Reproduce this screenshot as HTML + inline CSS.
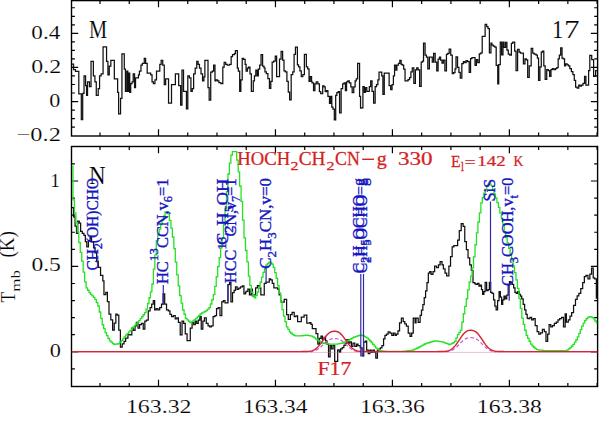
<!DOCTYPE html><html><head><meta charset="utf-8"><style>html,body{margin:0;padding:0;background:#fff;overflow:hidden}svg{display:block}text{font-family:'Liberation Serif',serif}</style></head><body>
<svg width="600" height="438" viewBox="0 0 600 438">
<rect width="600" height="438" fill="#fff"/>
<defs><clipPath id="ct"><rect x="71.5" y="0.6" width="526.1" height="135.4"/></clipPath><clipPath id="cb"><rect x="71.5" y="146.5" width="526.1" height="240.0"/></clipPath></defs>
<rect x="71.5" y="0.6" width="526.1" height="135.4" fill="none" stroke="#000" stroke-width="1.4"/>
<path d="M100.02 136.0v-3.4M100.02 0.6v3.4M129.26 136.0v-3.4M129.26 0.6v3.4M158.50 136.0v-6.7M158.50 0.6v6.7M187.74 136.0v-3.4M187.74 0.6v3.4M216.98 136.0v-3.4M216.98 0.6v3.4M246.22 136.0v-3.4M246.22 0.6v3.4M275.46 136.0v-6.7M275.46 0.6v6.7M304.70 136.0v-3.4M304.70 0.6v3.4M333.94 136.0v-3.4M333.94 0.6v3.4M363.18 136.0v-3.4M363.18 0.6v3.4M392.42 136.0v-6.7M392.42 0.6v6.7M421.66 136.0v-3.4M421.66 0.6v3.4M450.90 136.0v-3.4M450.90 0.6v3.4M480.14 136.0v-3.4M480.14 0.6v3.4M509.38 136.0v-6.7M509.38 0.6v6.7M538.62 136.0v-3.4M538.62 0.6v3.4M567.86 136.0v-3.4M567.86 0.6v3.4M597.10 136.0v-3.4M597.10 0.6v3.4M71.5 127.12h3.4M597.6 127.12h-3.4M71.5 118.60h3.4M597.6 118.60h-3.4M71.5 110.08h3.4M597.6 110.08h-3.4M71.5 101.55h6.7M597.6 101.55h-6.7M71.5 93.02h3.4M597.6 93.02h-3.4M71.5 84.50h3.4M597.6 84.50h-3.4M71.5 75.97h3.4M597.6 75.97h-3.4M71.5 67.45h6.7M597.6 67.45h-6.7M71.5 58.92h3.4M597.6 58.92h-3.4M71.5 50.40h3.4M597.6 50.40h-3.4M71.5 41.87h3.4M597.6 41.87h-3.4M71.5 33.35h6.7M597.6 33.35h-6.7M71.5 24.82h3.4M597.6 24.82h-3.4M71.5 16.30h3.4M597.6 16.30h-3.4M71.5 7.77h3.4M597.6 7.77h-3.4" stroke="#000" stroke-width="1.2" fill="none"/>
<rect x="71.5" y="146.5" width="526.1" height="240.0" fill="none" stroke="#000" stroke-width="1.4"/>
<path d="M100.02 386.5v-3.4M100.02 146.5v3.4M129.26 386.5v-3.4M129.26 146.5v3.4M158.50 386.5v-6.7M158.50 146.5v6.7M187.74 386.5v-3.4M187.74 146.5v3.4M216.98 386.5v-3.4M216.98 146.5v3.4M246.22 386.5v-3.4M246.22 146.5v3.4M275.46 386.5v-6.7M275.46 146.5v6.7M304.70 386.5v-3.4M304.70 146.5v3.4M333.94 386.5v-3.4M333.94 146.5v3.4M363.18 386.5v-3.4M363.18 146.5v3.4M392.42 386.5v-6.7M392.42 146.5v6.7M421.66 386.5v-3.4M421.66 146.5v3.4M450.90 386.5v-3.4M450.90 146.5v3.4M480.14 386.5v-3.4M480.14 146.5v3.4M509.38 386.5v-6.7M509.38 146.5v6.7M538.62 386.5v-3.4M538.62 146.5v3.4M567.86 386.5v-3.4M567.86 146.5v3.4M597.10 386.5v-3.4M597.10 146.5v3.4M71.5 368.88h3.4M597.6 368.88h-3.4M71.5 351.80h6.7M597.6 351.80h-6.7M71.5 334.72h3.4M597.6 334.72h-3.4M71.5 317.64h3.4M597.6 317.64h-3.4M71.5 300.56h3.4M597.6 300.56h-3.4M71.5 283.48h3.4M597.6 283.48h-3.4M71.5 266.40h6.7M597.6 266.40h-6.7M71.5 249.32h3.4M597.6 249.32h-3.4M71.5 232.24h3.4M597.6 232.24h-3.4M71.5 215.16h3.4M597.6 215.16h-3.4M71.5 198.08h3.4M597.6 198.08h-3.4M71.5 181.00h6.7M597.6 181.00h-6.7M71.5 163.92h3.4M597.6 163.92h-3.4" stroke="#000" stroke-width="1.2" fill="none"/>
<path d="M71.50 64.08H73.55V69.51H75.50V71.46H78.80V93.98H81.32V119.61H82.68V93.40H84.04V75.92H85.59V85.63H86.56V95.34H87.53V81.75H89.48V86.60H91.03V61.36H93.36V75.92H94.91V81.75H96.27V95.34H98.21V88.54H99.57V75.92H101.13V73.98H103.07V46.80H106.56V61.36H107.92V74.95H109.28V66.21H110.83V60.39H114.33V78.83H117.63V92.43H118.60V113.79H120.54V98.25H121.94V53.98H124.27V69.13H125.44V91.46H126.80V71.07H127.77V91.46H128.74V73.01H129.71V92.43H130.68V83.69H132.04V81.75H133.20V73.98H134.56V87.57H135.53V77.86H138.45V74.95H139.42V71.07H140.97V65.24H142.33V63.30H144.27V58.45H145.63V63.30H147.18V73.01H150.68V74.95H152.04V81.75H153.40V83.69H154.95V79.81H156.50V71.07H159.81V64.27H161.17V60.39H162.72V65.24H164.27V84.66H165.63V78.83H168.54V103.11H169.55V103.11H171.50V84.66H175.38V73.98H178.68V85.63H180.62V105.05H181.98V70.10H183.53V91.46H186.45V108.93H187.81V75.92H189.36V77.86H190.91V91.46H192.27V88.54H193.63V73.98H195.18V68.16H196.74V61.36H198.10V64.27H199.46V68.16H201.01V73.98H202.56V80.78H203.92V76.89H204.89V60.39H208.00V87.57H209.17V100.19H210.72V72.04H212.27V71.07H213.63V65.24H214.99V80.78H216.00V79.81H217.55V80.78H218.91V82.72H220.85V83.69H222.80V67.18H224.16V62.33H225.71V64.27H227.26V65.24H229.59V64.27H231.15V56.50H232.50V54.56H234.45V53.59H235.42V50.68H237.36V68.16H238.33V71.07H239.69V91.46H240.85V79.81H242.21V58.45H243.57V59.42H245.13V64.27H246.10V71.07H247.46V68.16H248.62V67.18H249.98V73.98H251.34V91.46H253.28V80.78H254.45V75.92H255.81V70.10H257.17V75.92H258.33V69.13H259.69V65.24H261.05V54.56H262.60V66.21H264.00V67.86H264.97V71.75H266.33V73.69H267.88V78.54H269.44V88.25H270.80V81.46H272.16V62.04H273.71V61.07H275.26V56.21H276.62V76.60H279.53V59.13H281.09V51.36H282.64V60.10H284.00V70.78H285.36V71.75H286.91V81.46H288.27V92.14H289.63V99.90H291.18V74.66H292.74V71.75H294.10V54.27H295.46V47.09H297.40V64.95H298.56V66.89H299.92V70.78H301.28V76.60H302.83V74.66H304.39V54.27H306.33V66.89H307.69V68.83H309.05V81.46H310.21V76.60H311.57V81.46H312.00V82.86H313.55V90.63H314.91V83.83H316.27V81.89H317.83V83.83H319.38V91.60H320.74V93.54H322.68V85.78H324.04V86.75H325.20V91.60H326.56V90.63H327.92V96.46H329.48V103.25H330.64V96.46H331.81V107.14H332.97V109.08H334.33V119.76H335.69V95.49H336.85V92.57H338.21V91.60H339.57V112.96H341.13V88.69H342.68V83.83H344.04V82.86H345.40V90.63H346.56V81.89H347.92V80.92H349.28V82.86H350.83V86.75H352.19V92.57H353.75V86.75H355.11V80.92H356.27V78.98H357.63V63.45H359.57V96.46H360.54V108.11H360.97V107.96H362.91V86.60H364.27V92.43H365.44V87.57H366.80V91.46H369.32V86.60H370.68V80.78H372.04V91.46H373.59V103.11H375.15V86.60H376.50V84.66H377.86V79.81H379.03V72.04H381.75V75.92H382.91V94.37H384.27V73.01H389.13V85.63H390.68V89.51H392.04V84.66H393.40V75.92H394.56V65.24H395.92V70.10H396.89V65.24H398.45V63.30H399.81V60.39H401.17V64.27H402.33V65.24H403.69V69.13H405.05V80.78H408.00V79.51H409.55V77.57H410.91V71.75H412.27V67.86H413.83V83.40H415.38V69.81H416.74V67.86H418.10V69.81H419.65V86.31H421.20V62.04H422.56V61.07H423.53V43.20H425.09V55.24H426.45V57.18H427.81V68.83H429.36V57.18H432.27V62.04H433.63V53.30H435.18V62.04H436.74V70.78H438.10V59.13H439.46V57.18H440.62V60.10H441.98V63.01H443.34V60.10H444.89V70.78H446.45V54.27H447.81V53.30H449.17V49.03H450.72V55.24H452.27V73.69H453.63V72.72H454.99V68.83H456.00V56.75H457.55V67.43H458.91V72.28H460.27V78.11H461.83V63.54H463.38V61.60H464.74V62.57H466.10V60.63H467.65V61.60H469.20V72.28H470.56V58.69H471.92V57.72H475.03V65.49H476.39V59.66H477.75V62.57H479.30V53.83H480.85V52.86H482.21V36.36H485.13V24.32H486.68V26.65H488.04V28.59H489.40V52.86H490.95V43.16H491.92V45.10H493.28V46.07H494.83V47.04H496.19V65.49H497.75V83.93H498.72V64.51H500.27V42.18H501.63V54.81H502.99V42.18H504.00V47.33H505.55V42.48H506.91V50.24H508.27V54.13H509.83V55.10H511.38V43.45H512.74V42.09H514.68V51.21H516.04V70.63H517.59V49.27H519.15V52.18H520.50V53.16H523.42V63.83H524.97V58.98H526.33V59.95H527.69V77.43H529.24V65.78H531.18V48.30H532.74V53.16H534.10V54.13H536.04V55.10H537.40V58.01H538.56V80.34H539.92V66.75H541.28V52.18H542.45V51.21H543.81V65.78H545.17V79.37H546.72V69.66H548.27V70.63H549.63V76.46H550.97V69.66H552.33V68.69H553.88V69.66H555.44V68.69H556.80V67.72H558.16V58.98H559.32V55.10H560.68V47.91H562.04V58.01H563.20V58.98H564.56V65.78H565.53V63.83H567.09V64.81H568.45V65.78H569.81V68.69H571.36V71.60H572.91V74.51H574.27V80.34H575.63V87.14H577.18V88.11H578.74V85.19H580.10V86.17H581.46V85.19H583.01V83.25H584.56V76.46H585.92V85.19H588.60V70.50H589.81V55.41H591.71V59.68H593.61V76.34H595.61V70.50H597.60" fill="none" stroke="#111" stroke-width="1.25" clip-path="url(#ct)"/>
<g clip-path="url(#cb)">
<path d="M71.50 207.74H73.64V216.98H75.08V226.23H76.52V233.42H77.75V221.09H79.19V223.15H80.63V231.37H82.27V233.42H83.92V235.48H85.36V241.64H86.79V246.78H88.44V240.61H90.08V237.53H91.52V241.64H93.57V247.80H95.01V252.94H96.66V261.16H98.26V267.28H100.54V275.27H102.82V280.98H103.96V294.68H105.79V292.40H107.39V301.53H108.99V314.09H110.81V319.79H112.64V330.07H114.24V323.22H115.84V314.09H117.21V315.23H118.80V330.07H120.40V347.19H122.23V343.77H124.05V341.48H125.65V338.06H127.94V334.63H130.00V334.91H131.83V328.06H133.42V330.34H135.02V325.78H136.39V322.35H137.99V328.06H139.59V324.63H141.42V323.49H143.24V329.20H144.84V321.21H146.44V320.07H148.26V310.94H150.09V307.51H151.69V304.09H153.29V300.66H154.66V309.79H156.26V308.65H157.85V309.79H159.68V307.51H161.51V304.09H163.11V293.81H164.70V304.09H166.53V309.79H168.36V310.94H169.95V314.36H171.55V316.64H173.38V315.50H175.21V318.93H176.80V317.79H178.40V322.35H180.23V334.91H182.05V321.21H183.65V323.49H185.25V333.77H187.08V340.62H188.00V340.62H190.28V328.06H192.11V322.35H193.71V324.63H195.31V321.21H196.68V323.49H198.27V320.07H199.87V316.64H201.24V329.20H202.84V321.21H204.44V317.79H206.26V323.49H208.09V325.78H209.69V326.92H211.29V325.78H213.11V316.64H214.94V315.50H216.54V308.65H218.14V307.51H219.96V315.50H221.79V301.80H223.39V300.66H224.99V302.95H227.95V284.68H229.55V282.40H230.92V301.80H232.52V292.67H234.12V290.39H235.49V286.96H237.09V289.25H238.68V288.11H240.51V286.96H242.34V285.82H243.94V293.81H245.53V292.67H246.00V291.37H247.83V289.09H249.42V294.79H251.02V289.09H252.39V295.94H253.99V294.79H255.59V287.95H257.42V285.66H259.24V287.95H260.84V294.79H264.26V283.38H266.09V282.24H269.29V278.81H270.66V279.95H272.26V283.38H273.85V287.95H277.51V289.09H279.11V294.79H280.70V300.50H281.10V302.20H284.20V299.40H286.60V314.50H288.30V319.30H290.40V314.50H292.10V312.40H294.20V316.50H295.90V315.90H297.60V321.70H301.30V317.20H304.10V315.20H306.80V323.10H309.70V322.60H311.00V324.30H312.30V328.50H316.00V333.50H317.81V344.20H319.41V338.49H321.00V336.21H322.37V339.63H323.97V337.35H325.57V340.78H326.94V344.20H328.54V356.76H330.14V345.34H331.51V348.77H333.11V345.34H334.70V361.32H337.67V349.91H339.27V352.19H340.64V348.77H342.24V347.63H343.84V345.34H345.21V343.06H346.80V339.63H348.40V343.06H349.77V341.92H351.37V346.48H352.97V343.06H354.79V346.48H356.62V344.20H358.00V345.62H360.28V347.90H362.11V355.89H363.71V342.19H365.31V341.05H366.68V350.18H368.27V353.61H369.87V350.18H371.24V352.47H372.84V350.18H374.44V352.47H375.81V358.17H377.41V350.18H379.00V349.04H380.37V347.90H381.97V345.62H383.57V338.77H384.94V335.34H386.54V334.20H388.14V331.92H389.96V333.06H391.79V335.34H393.39V333.06H394.99V335.34H396.36V334.20H397.95V330.78H399.55V322.79H401.38V318.22H403.21V321.64H404.80V323.93H406.40V326.21H408.23V333.06H410.05V336.48H411.65V333.06H413.25V318.22H415.08V322.79H416.00V318.22H418.19V322.33H420.11V315.48H421.48V310.00H422.85V304.52H424.22V297.67H425.59V290.82H426.96V282.60H428.33V273.01H429.70V271.64H431.07V274.38H432.99V271.64H434.63V266.16H436.55V267.53H438.47V264.79H440.11V261.51H442.03V264.79H443.40V268.90H445.04V273.01H446.68V275.75H448.88V266.16H450.52V256.58H452.16V246.99H453.81V245.62H457.64V240.14H459.29V230.55H461.21V223.70H463.12V226.44H464.77V241.51H466.41V249.73H468.05V257.95H469.70V264.79H471.34V270.27H472.99V282.60H474.90V283.97H476.02V284.25H477.48V283.34H478.95V286.08H480.23V285.16H481.51V289.73H482.60V294.31H483.88V291.56H485.16V282.42H486.63V290.65H488.09V289.73H489.37V282.42H490.65V292.48H492.11V293.39H493.57V299.79H494.85V306.19H496.13V309.84H497.59V300.70H499.06V291.56H500.34V297.05H501.62V304.36H502.71V299.79H503.99V296.13H505.27V298.88H506.73V295.22H508.20V285.16H509.48V281.51H510.76V282.42H512.22V284.25H513.68V287.91H514.96V292.48H516.24V293.39H517.70V291.56H519.17V294.31H520.45V296.13H521.73V298.88H523.19V304.36H524.65V309.84H525.93V314.41H527.21V318.07H528.00V318.55H529.92V317.35H531.60V319.75H533.28V318.55H535.19V325.74H537.11V331.74H538.79V334.14H540.47V332.94H542.39V329.34H544.31V331.74H545.99V341.33H547.66V334.14H549.10V324.54H550.78V326.94H552.46V325.74H554.38V323.35H556.30V322.15H557.98V319.75H559.65V318.55H561.57V317.35H563.49V326.94H565.17V313.75H566.37V322.15H568.29V319.75H569.97V316.15H571.65V312.55H573.56V305.36H575.48V299.36H577.16V295.77H578.84V293.37H580.76V288.57H582.68V282.58H584.35V276.58H586.03V275.38H587.95V278.98H589.87V274.18H591.55V268.19H593.23V277.78H594.67V278.98H596.35V298.17H597.60" fill="none" stroke="#111" stroke-width="1.25"/>
<path d="M71.50 166.47H72.96V199.93H74.42V212.81H75.89V222.76H77.35V232.22H78.81V242.50H80.27V252.39H81.73V261.05H83.20V272.13H84.66V281.96H86.12V287.88H87.58V290.26H89.04V292.65H90.51V294.44H91.97V295.90H93.43V297.36H94.89V299.65H96.35V302.57H97.82V306.01H99.28V311.99H100.74V318.39H102.20V324.76H103.66V328.67H105.13V332.58H106.59V335.67H108.05V338.51H109.51V340.81H110.97V342.17H112.44V343.54H113.90V344.43H115.36V344.21H116.82V343.99H118.28V343.58H119.75V342.07H121.21V340.57H122.67V338.81H124.13V337.00H125.59V335.19H127.06V333.54H128.52V331.96H129.98V330.39H131.44V328.79H132.90V326.99H134.37V325.29H135.83V323.80H137.29V322.30H138.75V320.68H140.21V318.71H141.68V316.74H143.14V314.76H144.60V312.72H146.06V309.19H147.52V303.49H148.99V297.75H150.45V291.95H151.91V283.98H153.37V269.08H154.83V254.91H156.30V240.70H157.76V234.95H159.22V229.19H160.68V224.72H162.14V220.28H163.61V215.84H165.07V212.00H166.53V212.00H167.99V213.86H169.45V220.29H170.92V228.14H172.38V237.01H173.84V248.62H175.30V262.15H176.76V274.96H178.23V285.78H179.69V295.66H181.15V303.22H182.61V310.00H184.07V314.25H185.54V318.37H187.00V319.80H188.46V321.23H189.92V322.66H191.38V321.88H192.85V320.86H194.31V319.77H195.77V318.35H197.23V316.93H198.69V315.48H200.16V314.01H201.62V312.89H203.08V312.19H204.54V311.49H206.00V310.55H207.47V309.05H208.93V307.54H210.39V303.98H211.85V299.77H213.31V294.69H214.78V286.28H216.24V276.76H217.70V266.66H219.16V257.66H220.62V247.88H222.09V237.60H223.55V224.76H225.01V208.88H226.47V191.68H227.93V174.02H229.40V163.15H230.86V155.19H232.32V151.60H233.78V151.60H235.24V151.60H236.71V160.08H238.17V171.80H239.63V186.02H241.09V201.40H242.55V220.06H244.02V237.79H245.48V250.49H246.94V261.80H248.40V276.13H249.86V285.35H251.33V292.21H252.79V295.52H254.25V297.73H255.71V295.30H257.17V292.04H258.64V287.24H260.10V282.27H261.56V277.07H263.02V272.45H264.48V268.54H265.95V264.93H267.41V263.51H268.87V262.09H270.33V262.76H271.79V264.22H273.26V267.28H274.72V272.69H276.18V278.26H277.64V285.61H279.10V292.96H280.57V301.33H282.03V309.66H283.49V316.21H284.95V321.87H286.41V326.88H287.88V329.33H289.34V331.78H290.80V333.26H292.26V334.34H293.72V335.42H295.19V335.90H296.65V335.90H298.11V335.90H299.57V335.90H301.03V335.77H302.50V335.58H303.96V335.38H305.42V335.19H306.88V335.25H308.34V335.53H309.81V335.81H311.27V336.09H312.73V336.85H314.19V337.96H315.65V339.06H317.12V340.06H318.58V340.96H320.04V341.85H321.50V342.75H322.96V343.24H324.43V343.48H325.89V343.71H327.35V343.94H328.81V344.17H330.27V344.20H331.74V344.20H333.20V344.20H334.66V344.20H336.12V344.14H337.58V343.91H339.05V343.68H340.51V343.44H341.97V343.21H343.43V342.72H344.89V341.99H346.36V341.26H347.82V340.47H349.28V339.60H350.74V338.73H352.20V337.86H353.67V337.15H355.13V336.61H356.59V336.08H358.05V335.54H359.51V335.12H360.98V335.23H362.44V335.59H363.90V336.34H365.36V337.09H366.82V338.05H368.29V339.52H369.75V340.98H371.21V342.50H372.67V344.31H374.13V346.12H375.60V347.92H377.06V348.89H378.52V349.87H379.98V350.84H381.44V351.02H382.91V351.15H384.37V351.27H385.83V351.30H387.29V351.30H388.75V351.30H390.22V351.30H391.68V351.30H393.14V351.30H394.60V351.30H396.06V351.30H397.53V351.30H398.99V351.30H400.45V351.30H401.91V351.30H403.37V351.25H404.84V351.07H406.30V350.90H407.76V350.72H409.22V350.54H410.68V350.37H412.15V350.17H413.61V349.52H415.07V348.87H416.53V348.23H417.99V347.50H419.46V346.68H420.92V345.87H422.38V345.05H423.84V344.24H425.30V343.67H426.77V343.20H428.23V342.73H429.69V342.27H431.15V341.80H432.61V341.33H434.08V340.86H435.54V340.99H437.00V341.21H438.46V341.43H439.92V341.65H441.39V341.87H442.85V342.22H444.31V342.79H445.77V343.35H447.23V343.92H448.70V344.48H450.16V344.22H451.62V343.43H453.08V342.64H454.54V341.36H456.01V337.95H457.47V334.69H458.93V332.40H460.39V330.12H461.85V322.09H463.32V313.76H464.78V306.40H466.24V298.75H467.70V289.87H469.16V282.02H470.63V276.17H472.09V267.78H473.55V256.84H475.01V244.73H476.47V232.87H477.94V222.00H479.40V212.84H480.86V202.92H482.32V197.77H483.78V193.21H485.25V189.36H486.71V185.97H488.17V184.20H489.63V184.20H491.09V185.68H492.56V189.79H494.02V193.91H495.48V198.04H496.94V202.70H498.40V207.36H499.87V212.87H501.33V218.60H502.79V224.40H504.25V231.57H505.71V237.60H507.18V242.79H508.64V248.29H510.10V254.05H511.56V260.04H513.02V265.85H514.49V272.61H515.95V279.97H517.41V288.32H518.87V298.36H520.33V308.30H521.80V318.21H523.26V324.33H524.72V330.25H526.18V335.33H527.64V338.29H529.11V341.24H530.57V344.19H532.03V345.94H533.49V347.24H534.95V348.53H536.42V349.72H537.88V349.88H539.34V350.05H540.80V350.21H542.26V350.37H543.73V350.54H545.19V350.60H546.65V350.60H548.11V350.60H549.57V350.60H551.04V350.60H552.50V350.60H553.96V350.60H555.42V350.60H556.88V350.60H558.35V350.60H559.81V350.60H561.27V350.60H562.73V350.60H564.19V350.60H565.66V350.60H567.12V349.89H568.58V348.90H570.04V347.66H571.50V346.01H572.97V344.37H574.43V342.19H575.89V339.74H577.35V336.90H578.81V333.28H580.28V329.66H581.74V326.15H583.20V323.18H584.66V320.53H586.12V318.76H587.59V317.34H589.05V316.76H590.51V316.72H591.97V317.57H593.43V318.91H594.90V321.00H596.36V322.92H597.60" fill="none" stroke="#26e026" stroke-width="1.3"/>
<path d="M71.5 352.4H597.6" stroke="#d070a0" stroke-width="1.0" stroke-opacity="0.45" fill="none"/>
<path d="M310.0 351.76L311.0 351.64L312.0 351.48L313.0 351.27L314.0 350.98L315.0 350.63L316.0 350.18L317.0 349.65L318.0 349.02L319.0 348.30L320.0 347.50L321.0 346.63L322.0 345.70L323.0 344.75L324.0 343.79L325.0 342.86L326.0 341.98L327.0 341.17L328.0 340.47L329.0 339.87L330.0 339.39L331.0 339.03L332.0 338.79L333.0 338.66L334.0 338.61L335.0 338.60L336.0 338.64L337.0 338.76L338.0 338.98L339.0 339.31L340.0 339.76L341.0 340.34L342.0 341.02L343.0 341.81L344.0 342.68L345.0 343.60L346.0 344.56L347.0 345.51L348.0 346.44L349.0 347.33L350.0 348.15L351.0 348.88L352.0 349.53L353.0 350.08L354.0 350.55L355.0 350.92L356.0 351.22L357.0 351.44L358.0 351.61L359.0 351.74L360.0 351.83M446.0 351.76L447.0 351.65L448.0 351.49L449.0 351.27L450.0 350.98L451.0 350.62L452.0 350.16L453.0 349.61L454.0 348.96L455.0 348.22L456.0 347.37L457.0 346.46L458.0 345.48L459.0 344.47L460.0 343.44L461.0 342.44L462.0 341.49L463.0 340.61L464.0 339.83L465.0 339.17L466.0 338.63L467.0 338.23L468.0 337.95L469.0 337.78L470.0 337.71L471.0 337.70L472.0 337.73L473.0 337.84L474.0 338.05L475.0 338.38L476.0 338.83L477.0 339.42L478.0 340.13L479.0 340.95L480.0 341.86L481.0 342.84L482.0 343.85L483.0 344.87L484.0 345.88L485.0 346.83L486.0 347.72L487.0 348.53L488.0 349.24L489.0 349.85L490.0 350.36L491.0 350.77L492.0 351.11L493.0 351.36L494.0 351.56L495.0 351.70L496.0 351.80" fill="none" stroke="#c845d0" stroke-width="1.2" stroke-dasharray="3.6 2.2" stroke-opacity="0.9"/>
<path d="M71.5 351.60L72.5 351.60L73.5 351.60L74.5 351.60L75.5 351.60L76.5 351.60L77.5 351.60L78.5 351.60L79.5 351.60L80.5 351.60L81.5 351.60L82.5 351.60L83.5 351.60L84.5 351.60L85.5 351.60L86.5 351.60L87.5 351.60L88.5 351.60L89.5 351.60L90.5 351.60L91.5 351.60L92.5 351.60L93.5 351.60L94.5 351.60L95.5 351.60L96.5 351.60L97.5 351.60L98.5 351.60L99.5 351.60L100.5 351.60L101.5 351.60L102.5 351.60L103.5 351.60L104.5 351.60L105.5 351.60L106.5 351.60L107.5 351.60L108.5 351.60L109.5 351.60L110.5 351.60L111.5 351.60L112.5 351.60L113.5 351.60L114.5 351.60L115.5 351.60L116.5 351.60L117.5 351.60L118.5 351.60L119.5 351.60L120.5 351.60L121.5 351.60L122.5 351.60L123.5 351.60L124.5 351.60L125.5 351.60L126.5 351.60L127.5 351.60L128.5 351.60L129.5 351.60L130.5 351.60L131.5 351.60L132.5 351.60L133.5 351.60L134.5 351.60L135.5 351.60L136.5 351.60L137.5 351.60L138.5 351.60L139.5 351.60L140.5 351.60L141.5 351.60L142.5 351.60L143.5 351.60L144.5 351.60L145.5 351.60L146.5 351.60L147.5 351.60L148.5 351.60L149.5 351.60L150.5 351.60L151.5 351.60L152.5 351.60L153.5 351.60L154.5 351.60L155.5 351.60L156.5 351.60L157.5 351.60L158.5 351.60L159.5 351.60L160.5 351.60L161.5 351.60L162.5 351.60L163.5 351.60L164.5 351.60L165.5 351.60L166.5 351.60L167.5 351.60L168.5 351.60L169.5 351.60L170.5 351.60L171.5 351.60L172.5 351.60L173.5 351.60L174.5 351.60L175.5 351.60L176.5 351.60L177.5 351.60L178.5 351.60L179.5 351.60L180.5 351.60L181.5 351.60L182.5 351.60L183.5 351.60L184.5 351.60L185.5 351.60L186.5 351.60L187.5 351.60L188.5 351.60L189.5 351.60L190.5 351.60L191.5 351.60L192.5 351.60L193.5 351.60L194.5 351.60L195.5 351.60L196.5 351.60L197.5 351.60L198.5 351.60L199.5 351.60L200.5 351.60L201.5 351.60L202.5 351.60L203.5 351.60L204.5 351.60L205.5 351.60L206.5 351.60L207.5 351.60L208.5 351.60L209.5 351.60L210.5 351.60L211.5 351.60L212.5 351.60L213.5 351.60L214.5 351.60L215.5 351.60L216.5 351.60L217.5 351.60L218.5 351.60L219.5 351.60L220.5 351.60L221.5 351.60L222.5 351.60L223.5 351.60L224.5 351.60L225.5 351.60L226.5 351.60L227.5 351.60L228.5 351.60L229.5 351.60L230.5 351.60L231.5 351.60L232.5 351.60L233.5 351.60L234.5 351.60L235.5 351.60L236.5 351.60L237.5 351.60L238.5 351.60L239.5 351.60L240.5 351.60L241.5 351.60L242.5 351.60L243.5 351.60L244.5 351.60L245.5 351.60L246.5 351.60L247.5 351.60L248.5 351.60L249.5 351.60L250.5 351.60L251.5 351.60L252.5 351.60L253.5 351.60L254.5 351.60L255.5 351.60L256.5 351.60L257.5 351.60L258.5 351.60L259.5 351.60L260.5 351.60L261.5 351.60L262.5 351.60L263.5 351.60L264.5 351.60L265.5 351.60L266.5 351.60L267.5 351.60L268.5 351.60L269.5 351.60L270.5 351.60L271.5 351.60L272.5 351.60L273.5 351.60L274.5 351.60L275.5 351.60L276.5 351.60L277.5 351.60L278.5 351.60L279.5 351.60L280.5 351.60L281.5 351.60L282.5 351.60L283.5 351.60L284.5 351.60L285.5 351.60L286.5 351.60L287.5 351.60L288.5 351.60L289.5 351.60L290.5 351.60L291.5 351.60L292.5 351.60L293.5 351.60L294.5 351.60L295.5 351.60L296.5 351.60L297.5 351.60L298.5 351.60L299.5 351.60L300.5 351.60L301.5 351.60L302.5 351.59L303.5 351.58L304.5 351.57L305.5 351.55L306.5 351.52L307.5 351.47L308.5 351.39L309.5 351.28L310.5 351.12L311.5 350.90L312.5 350.60L313.5 350.20L314.5 349.70L315.5 349.06L316.5 348.30L317.5 347.39L318.5 346.34L319.5 345.16L320.5 343.87L321.5 342.48L322.5 341.05L323.5 339.60L324.5 338.17L325.5 336.81L326.5 335.55L327.5 334.43L328.5 333.47L329.5 332.69L330.5 332.10L331.5 331.69L332.5 331.43L333.5 331.32L334.5 331.30L335.5 331.33L336.5 331.47L337.5 331.75L338.5 332.20L339.5 332.84L340.5 333.65L341.5 334.64L342.5 335.79L343.5 337.07L344.5 338.45L345.5 339.89L346.5 341.34L347.5 342.77L348.5 344.13L349.5 345.40L350.5 346.56L351.5 347.58L352.5 348.46L353.5 349.20L354.5 349.81L355.5 350.29L356.5 350.66L357.5 350.95L358.5 351.15L359.5 351.30L360.5 351.41L361.5 351.48L362.5 351.53L363.5 351.56L364.5 351.57L365.5 351.59L366.5 351.59L367.5 351.60L368.5 351.60L369.5 351.60L370.5 351.60L371.5 351.60L372.5 351.60L373.5 351.60L374.5 351.60L375.5 351.60L376.5 351.60L377.5 351.60L378.5 351.60L379.5 351.60L380.5 351.60L381.5 351.60L382.5 351.60L383.5 351.60L384.5 351.60L385.5 351.60L386.5 351.60L387.5 351.60L388.5 351.60L389.5 351.60L390.5 351.60L391.5 351.60L392.5 351.60L393.5 351.60L394.5 351.60L395.5 351.60L396.5 351.60L397.5 351.60L398.5 351.60L399.5 351.60L400.5 351.60L401.5 351.60L402.5 351.60L403.5 351.60L404.5 351.60L405.5 351.60L406.5 351.60L407.5 351.60L408.5 351.60L409.5 351.60L410.5 351.60L411.5 351.60L412.5 351.60L413.5 351.60L414.5 351.60L415.5 351.60L416.5 351.60L417.5 351.60L418.5 351.60L419.5 351.60L420.5 351.60L421.5 351.60L422.5 351.60L423.5 351.60L424.5 351.60L425.5 351.60L426.5 351.60L427.5 351.60L428.5 351.60L429.5 351.60L430.5 351.60L431.5 351.60L432.5 351.60L433.5 351.60L434.5 351.60L435.5 351.60L436.5 351.60L437.5 351.60L438.5 351.59L439.5 351.59L440.5 351.58L441.5 351.56L442.5 351.53L443.5 351.48L444.5 351.42L445.5 351.31L446.5 351.17L447.5 350.96L448.5 350.68L449.5 350.31L450.5 349.83L451.5 349.22L452.5 348.47L453.5 347.58L454.5 346.54L455.5 345.35L456.5 344.04L457.5 342.62L458.5 341.14L459.5 339.61L460.5 338.10L461.5 336.64L462.5 335.27L463.5 334.04L464.5 332.96L465.5 332.07L466.5 331.37L467.5 330.86L468.5 330.53L469.5 330.35L470.5 330.30L471.5 330.31L472.5 330.41L473.5 330.64L474.5 331.04L475.5 331.62L476.5 332.40L477.5 333.37L478.5 334.51L479.5 335.81L480.5 337.22L481.5 338.70L482.5 340.22L483.5 341.74L484.5 343.20L485.5 344.58L486.5 345.84L487.5 346.97L488.5 347.96L489.5 348.79L490.5 349.48L491.5 350.04L492.5 350.47L493.5 350.81L494.5 351.05L495.5 351.23L496.5 351.36L497.5 351.45L498.5 351.50L499.5 351.54L500.5 351.57L501.5 351.58L502.5 351.59L503.5 351.59L504.5 351.60L505.5 351.60L506.5 351.60L507.5 351.60L508.5 351.60L509.5 351.60L510.5 351.60L511.5 351.60L512.5 351.60L513.5 351.60L514.5 351.60L515.5 351.60L516.5 351.60L517.5 351.60L518.5 351.60L519.5 351.60L520.5 351.60L521.5 351.60L522.5 351.60L523.5 351.60L524.5 351.60L525.5 351.60L526.5 351.60L527.5 351.60L528.5 351.60L529.5 351.60L530.5 351.60L531.5 351.60L532.5 351.60L533.5 351.60L534.5 351.60L535.5 351.60L536.5 351.60L537.5 351.60L538.5 351.60L539.5 351.60L540.5 351.60L541.5 351.60L542.5 351.60L543.5 351.60L544.5 351.60L545.5 351.60L546.5 351.60L547.5 351.60L548.5 351.60L549.5 351.60L550.5 351.60L551.5 351.60L552.5 351.60L553.5 351.60L554.5 351.60L555.5 351.60L556.5 351.60L557.5 351.60L558.5 351.60L559.5 351.60L560.5 351.60L561.5 351.60L562.5 351.60L563.5 351.60L564.5 351.60L565.5 351.60L566.5 351.60L567.5 351.60L568.5 351.60L569.5 351.60L570.5 351.60L571.5 351.60L572.5 351.60L573.5 351.60L574.5 351.60L575.5 351.60L576.5 351.60L577.5 351.60L578.5 351.60L579.5 351.60L580.5 351.60L581.5 351.60L582.5 351.60L583.5 351.60L584.5 351.60L585.5 351.60L586.5 351.60L587.5 351.60L588.5 351.60L589.5 351.60L590.5 351.60L591.5 351.60L592.5 351.60L593.5 351.60L594.5 351.60L595.5 351.60L596.5 351.60L597.5 351.60" fill="none" stroke="#d42636" stroke-width="1.45"/>
</g>
<text transform="translate(31.33,38.52) scale(1.229,1)" font-size="18.82" fill="#000" stroke="#fff" stroke-width="0.15">0.4</text>
<text transform="translate(31.30,72.82) scale(1.292,1)" font-size="18.53" fill="#000" stroke="#fff" stroke-width="0.15">0.2</text>
<text transform="translate(49.37,107.11) scale(1.176,1)" font-size="18.81" fill="#000" stroke="#fff" stroke-width="0.15">0</text>
<text transform="translate(16.58,140.92) scale(1.317,1)" font-size="18.53" fill="#000" stroke="#fff" stroke-width="0.15">−0.2</text>
<text transform="translate(50.21,186.50) scale(0.979,1)" font-size="19.70" fill="#000" stroke="#fff" stroke-width="0.15">1</text>
<text transform="translate(31.41,271.32) scale(1.265,1)" font-size="18.68" fill="#000" stroke="#fff" stroke-width="0.15">0.5</text>
<text transform="translate(49.76,357.31) scale(1.179,1)" font-size="18.96" fill="#000" stroke="#fff" stroke-width="0.15">0</text>
<text transform="translate(125.97,412.52) scale(1.261,1)" font-size="18.89" fill="#000" stroke="#fff" stroke-width="0.15">163.32</text>
<text transform="translate(242.96,412.52) scale(1.242,1)" font-size="18.89" fill="#000" stroke="#fff" stroke-width="0.15">163.34</text>
<text transform="translate(359.91,412.52) scale(1.249,1)" font-size="18.89" fill="#000" stroke="#fff" stroke-width="0.15">163.36</text>
<text transform="translate(476.86,412.52) scale(1.257,1)" font-size="18.82" fill="#000" stroke="#fff" stroke-width="0.15">163.38</text>
<text transform="translate(88.99,37.90) scale(0.839,1)" font-size="24.27" fill="#000" stroke="#fff" stroke-width="0.15">M</text>
<text transform="translate(551.91,38.00) scale(0.936,1)" font-size="24.24" fill="#000" stroke="#fff" stroke-width="0.15">1</text>
<text transform="translate(563.88,38.00) scale(1.274,1)" font-size="24.43" fill="#000" stroke="#fff" stroke-width="0.15">7</text>
<text transform="translate(88.91,184.00) scale(0.924,1)" font-size="24.89" fill="#000" stroke="#fff" stroke-width="0.15">N</text>
<text transform="translate(14.70,302.40) rotate(-90) scale(0.840,1)" font-size="20.61" fill="#000" stroke="#fff" stroke-width="0.15">T</text>
<text transform="translate(19.87,291.64) rotate(-90) scale(1.292,1)" font-size="13.19" fill="#000" stroke="#fff" stroke-width="0.15">mb</text>
<text transform="translate(14.39,257.55) rotate(-90) scale(0.933,1)" font-size="20.28" fill="#000" stroke="#fff" stroke-width="0.15">(K)</text>
<text transform="translate(98.0,270.5) rotate(-90)" fill="#1616c0" stroke="#1616c0" stroke-width="0.35" textLength="92.5" lengthAdjust="spacingAndGlyphs"><tspan dy="0" font-size="15.8">CH</tspan><tspan dy="4.3" font-size="12">2</tspan><tspan dy="-4.3" font-size="15.8">(OH)CHO</tspan></text>
<text transform="translate(167.9,284.0) rotate(-90)" fill="#1616c0" stroke="#1616c0" stroke-width="0.35" textLength="105.5" lengthAdjust="spacingAndGlyphs"><tspan dy="0" font-size="15.8">HC</tspan><tspan dy="-9.6" font-size="12.8">13</tspan><tspan dy="9.6" font-size="15.8">CCN,v</tspan><tspan dy="4.3" font-size="12">6</tspan><tspan dy="-4.3" font-size="15.8">=1</tspan></text>
<text transform="translate(236.0,283.0) rotate(-90)" fill="#1616c0" stroke="#1616c0" stroke-width="0.35" textLength="104.5" lengthAdjust="spacingAndGlyphs"><tspan dy="0" font-size="15.8">HCC</tspan><tspan dy="-9.6" font-size="12.8">13</tspan><tspan dy="9.6" font-size="15.8">CN,v</tspan><tspan dy="4.3" font-size="12">7</tspan><tspan dy="-4.3" font-size="15.8">=1</tspan></text>
<text transform="translate(228.3,245.0) rotate(-90)" fill="#1616c0" stroke="#1616c0" stroke-width="0.35" textLength="66.5" lengthAdjust="spacingAndGlyphs"><tspan dy="0" font-size="15.8">C</tspan><tspan dy="4.3" font-size="12">2</tspan><tspan dy="-4.3" font-size="15.8">H</tspan><tspan dy="4.3" font-size="12">5</tspan><tspan dy="-4.3" font-size="15.8">OH</tspan></text>
<text transform="translate(271.4,268.8) rotate(-90)" fill="#1616c0" stroke="#1616c0" stroke-width="0.35" textLength="90.8" lengthAdjust="spacingAndGlyphs"><tspan dy="0" font-size="15.8">C</tspan><tspan dy="4.3" font-size="12">2</tspan><tspan dy="-4.3" font-size="15.8">H</tspan><tspan dy="4.3" font-size="12">3</tspan><tspan dy="-4.3" font-size="15.8">CN,v=0</tspan></text>
<text transform="translate(364.2,273.2) rotate(-90)" fill="#1616c0" stroke="#1616c0" stroke-width="0.35" textLength="95" lengthAdjust="spacingAndGlyphs"><tspan dy="0" font-size="15.8">C</tspan><tspan dy="4.3" font-size="12">2</tspan><tspan dy="-4.3" font-size="15.8">H</tspan><tspan dy="4.3" font-size="12">5</tspan><tspan dy="-4.3" font-size="15.8">OCHO&#8722;g</tspan></text>
<text transform="translate(366.6,273.2) rotate(-90)" fill="#1616c0" stroke="#1616c0" stroke-width="0.35" textLength="95" lengthAdjust="spacingAndGlyphs"><tspan dy="0" font-size="15.8">C</tspan><tspan dy="4.3" font-size="12">2</tspan><tspan dy="-4.3" font-size="15.8">H</tspan><tspan dy="4.3" font-size="12">5</tspan><tspan dy="-4.3" font-size="15.8">OCHO&#8722;g</tspan></text>
<text transform="translate(495.0,201.6) rotate(-90)" fill="#1616c0" stroke="#1616c0" stroke-width="0.35" textLength="22.6" lengthAdjust="spacingAndGlyphs"><tspan dy="0" font-size="15.8">SiS</tspan></text>
<text transform="translate(513.4,286.0) rotate(-90)" fill="#1616c0" stroke="#1616c0" stroke-width="0.35" textLength="108.5" lengthAdjust="spacingAndGlyphs"><tspan dy="0" font-size="15.8">CH</tspan><tspan dy="4.3" font-size="12">3</tspan><tspan dy="-4.3" font-size="15.8">COOH,v</tspan><tspan dy="4.3" font-size="12">t</tspan><tspan dy="-4.3" font-size="15.8">=0</tspan></text>
<path d="M163.3 285V305M228 284V301.5M266.1 267V283.4M360.8 274V356.5M363.5 274V356.5M490.5 201.6V291.6M509.2 286V300.8" stroke="#3228a8" stroke-width="1.2" fill="none"/>
<text transform="translate(237.34,164.82) scale(1.011,1)" font-size="18.44" fill="#d42222" stroke="#d42222" stroke-width="0.25">HOCH</text>
<text transform="translate(290.48,169.60) scale(1.247,1)" font-size="12.83" fill="#d42222" stroke="#d42222" stroke-width="0.25">2</text>
<text transform="translate(298.73,164.82) scale(1.048,1)" font-size="18.44" fill="#d42222" stroke="#d42222" stroke-width="0.25">CH</text>
<text transform="translate(326.48,169.60) scale(1.247,1)" font-size="12.83" fill="#d42222" stroke="#d42222" stroke-width="0.25">2</text>
<text transform="translate(335.09,164.82) scale(0.969,1)" font-size="18.44" fill="#d42222" stroke="#d42222" stroke-width="0.25">CN</text>
<rect x="362.2" y="158.6" width="11.8" height="1.4" fill="#d42222"/>
<text transform="translate(376.75,165.44) scale(1.122,1)" font-size="17.93" fill="#d42222" stroke="#d42222" stroke-width="0.25">g</text>
<text transform="translate(397.90,165.30) scale(1.182,1)" font-size="19.56" fill="#d42222" stroke="#d42222" stroke-width="0.25">330</text>
<text transform="translate(450.93,166.80) scale(0.924,1)" font-size="16.95" fill="#d42222" stroke="#d42222" stroke-width="0.25">E</text>
<text transform="translate(460.99,170.60) scale(0.795,1)" font-size="13.24" fill="#d42222" stroke="#d42222" stroke-width="0.25">l</text>
<text transform="translate(464.41,166.77) scale(1.337,1)" font-size="14.80" fill="#d42222" stroke="#d42222" stroke-width="0.25">=</text>
<text transform="translate(477.35,166.40) scale(1.262,1)" font-size="14.94" fill="#d42222" stroke="#d42222" stroke-width="0.25">142</text>
<text transform="translate(513.59,166.40) scale(0.902,1)" font-size="15.11" fill="#d42222" stroke="#d42222" stroke-width="0.25">K</text>
<text transform="translate(317.44,374.60) scale(1.206,1)" font-size="18.18" fill="#d42222" stroke="#d42222" stroke-width="0.25">F17</text>
</svg></body></html>
